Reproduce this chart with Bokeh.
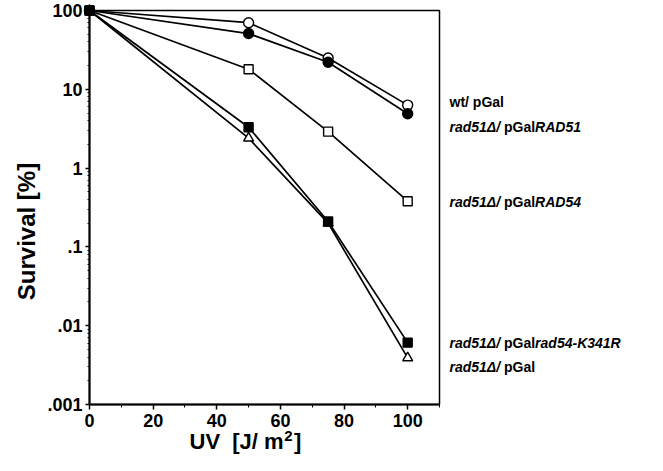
import math
from bokeh.plotting import figure
from bokeh.models import FixedTicker
from bokeh.core.properties import value
from bokeh.embed import file_html
from bokeh.resources import INLINE

# ---- data ----
uv_dose = [0, 50, 75, 100]
wt_pgal = [100, 70, 25, 6.3]
rad51_pgal_rad51 = [100, 51, 22, 4.9]
rad51_pgal_rad54 = [100, 18, 2.9, 0.38]
rad51_pgal = [100, 2.4, 0.2, 0.0039]
rad51_pgal_k341r = [100, 3.3, 0.21, 0.0061]

x_ticks = [0, 20, 40, 60, 80, 100]
x_tick_labels = ["0", "20", "40", "60", "80", "100"]
x_minor_ticks = [10, 30, 50, 70, 90, 110]
y_ticks = [0.001, 0.01, 0.1, 1, 10, 100]
y_tick_labels = [".001", ".01", ".1", "1", "10", "100"]

x_title = ["UV", "  [J/", " m", "2", "]"]
y_title = "Survival [%]"

series_labels = [
    [("wt/", False), (" pGal", False)],
    [("rad51\u0394/", True), (" pGal", False), ("RAD51", True)],
    [("rad51\u0394/", True), (" pGal", False), ("RAD54", True)],
    [("rad51\u0394/", True), (" pGal", False), ("rad54-K341R", True)],
    [("rad51\u0394/", True), (" pGal", False)],
]

# ---- layout ----
FONT = "Liberation Sans"
W, H = 647, 455
FL, FT, FW, FH = 89, 10, 350, 394  # frame in canvas pixels
FB = FT + FH
X0, X1 = 0, 110
LY0, LY1 = -3, 2


def dx(px):
    # canvas x pixel -> data x
    return X0 + (px - FL) / FW * (X1 - X0)


def dy(py):
    # canvas y pixel -> data y (log axis)
    return 10 ** (LY0 + (FB - py) / FH * (LY1 - LY0))


CW = {'r': 389, 'a': 556, 'd': 611, '5': 556, '1': 556, '\u0394': 668, '/': 278,
      ' ': 278, 'p': 611, 'G': 778, 'l': 278, 'R': 722, 'A': 722, 'D': 722,
      'w': 778, 't': 333, 'K': 722, '3': 556, '4': 556, '-': 333, 'U': 722,
      'V': 667, '[': 333, ']': 333, 'J': 556, 'm': 889, '2': 556}


def text_width(s, size):
    return sum(CW.get(c, 556) for c in s) / 1000.0 * size


p = figure(frame_width=FW, frame_height=FH, x_range=(X0, X1), y_range=(10 ** LY0, 10 ** LY1),
           y_axis_type="log", output_backend="svg", toolbar_location=None,
           min_border_left=FL, min_border_top=FT, min_border_right=W - FL - FW,
           min_border_bottom=H - FB)
p.xgrid.visible = False
p.ygrid.visible = False
p.outline_line_color = "black"
p.outline_line_width = 1.5
p.outline_line_alpha = 1.0

for ax in (p.xaxis[0], p.yaxis[0]):
    ax.axis_line_width = 2
    ax.axis_line_color = "black"
    ax.major_tick_line_color = "black"
    ax.minor_tick_line_color = "black"
    ax.major_tick_line_width = 1.5
    ax.minor_tick_line_width = 1
    ax.major_tick_in = 0
    ax.minor_tick_in = 0
    ax.major_label_text_font = FONT
    ax.major_label_text_font_style = "bold"
    ax.major_label_text_font_size = "18px"
    ax.major_label_text_color = "black"

p.xaxis.ticker = FixedTicker(ticks=x_ticks, minor_ticks=x_minor_ticks)
p.xaxis.major_label_overrides = {t: l for t, l in zip(x_ticks, x_tick_labels)}
p.xaxis.major_tick_out = 5
p.xaxis.minor_tick_out = 3
p.xaxis.major_label_standoff = 4

y_minor = [m * 10 ** e for e in range(-3, 2) for m in range(2, 10)]
p.yaxis.ticker = FixedTicker(ticks=y_ticks, minor_ticks=y_minor)
p.yaxis.major_label_overrides = {t: l for t, l in zip(y_ticks, y_tick_labels)}
p.yaxis.major_tick_out = 4
p.yaxis.minor_tick_out = 2
p.yaxis.major_label_standoff = 3

LW = 1.7
styles = [
    (wt_pgal, "circle", "white", 10),
    (rad51_pgal_rad51, "circle", "black", 10),
    (rad51_pgal_rad54, "square", "white", 9),
    (rad51_pgal, "triangle", "white", 10),
    (rad51_pgal_k341r, "square", "black", 9),
]
for ys, marker, fill, size in styles:
    p.line(uv_dose, ys, line_color="black", line_width=LW, level="overlay")
    p.scatter(uv_dose, ys, marker=marker, size=size, fill_color=fill,
              line_color="black", line_width=1.4, level="overlay")


def put_text(px, py, txt, size, style="bold", align="left", angle=0.0):
    p.text(x=[dx(px)], y=[dy(py)], text=[txt], text_font=value(FONT),
           text_font_style=style, text_font_size=f"{size}px",
           text_baseline="middle", text_align=align, angle=angle,
           text_color="black", level="overlay")


def put_run(px, py, segs, size):
    # segs: list of (text, italic, size_or_None, dy_px, gap_px); leading spaces advanced manually
    for txt, ital, sz, off, gap in segs:
        s = sz or size
        body = txt.lstrip(" ")
        px += text_width(" " * (len(txt) - len(body)), s) + gap
        put_text(px, py + off, body, s, "bold italic" if ital else "bold")
        px += text_width(body, s)
    return px


# series labels on the right
label_y_px = [101, 126, 201, 342, 366]
LS = 14
for segs, py in zip(series_labels, label_y_px):
    put_run(449, py, [(t, it, None, 0, 0) for t, it in segs], LS)

# x axis title (superscript 2)
AS = 22
put_run(189, 441, [(x_title[0], False, None, 0, 0), (x_title[1], False, None, 0, 0),
                   (x_title[2], False, None, 0, 0), (x_title[3], False, 15, -6, 0.5),
                   (x_title[4], False, None, 0, 1.5)], AS)

# y axis title
put_text(26, 231, y_title, 24, align="center", angle=math.pi / 2)

open("out.html", "w").write(file_html(p, INLINE))
